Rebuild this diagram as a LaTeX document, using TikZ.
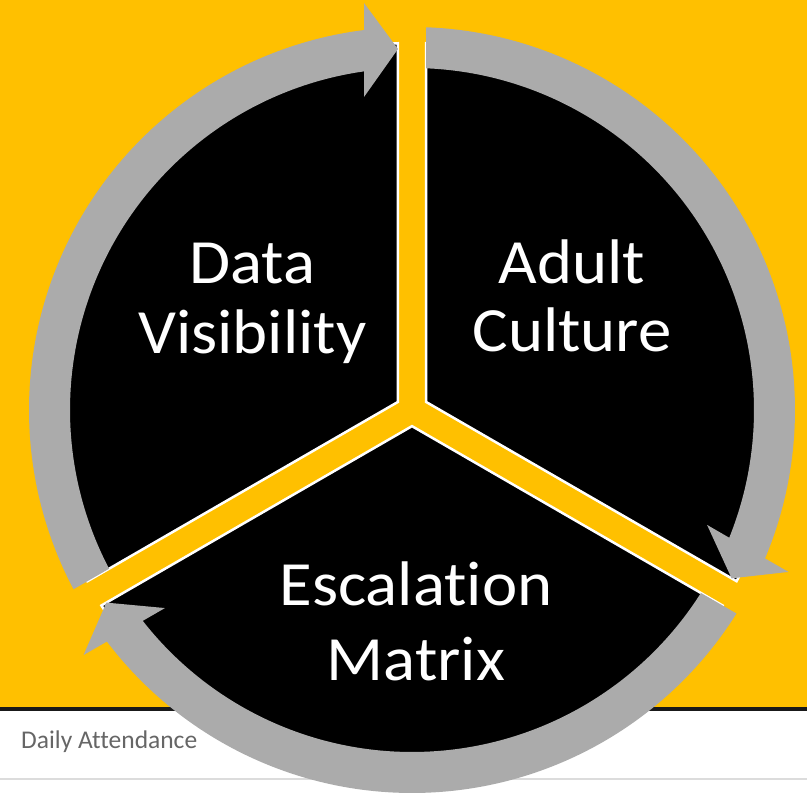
\documentclass[tikz,border=0pt]{standalone}
\usepackage{fontspec}
\setmainfont[Ligatures=NoCommon]{Carlito}
\newfontfamily\bigfont[FakeStretch=1.06,Ligatures=NoCommon]{Carlito}
\definecolor{gold}{HTML}{FFC000}
\definecolor{ringgray}{HTML}{ABABAB}
\definecolor{txtgray}{HTML}{666666}
\definecolor{rulegray}{HTML}{DCDCDC}
\tikzset{
  sector/.style={fill=black, draw=white, line width=2.5pt, line join=miter},
  ringarrow/.style={fill=ringgray},
  bigtext/.style={text=white, align=center, inner sep=0pt, anchor=north},
}
\begin{document}
\begin{tikzpicture}[x=1pt,y=1pt]
\useasboundingbox (0,0) rectangle (807,799);
% background
\fill[white] (0,0) rectangle (807,799);
\fill[gold] (0,92) rectangle (807,799);
\fill[black!90] (0,88) rectangle (807,92);
\fill[rulegray] (0,18.5) rectangle (807,20.5);
\node[anchor=base west, inner sep=0pt, text=txtgray, font=\fontsize{25.5}{30}\selectfont] (label) at (21,50) {Daily Attendance};
% diagram
\begin{scope}[shift={(412,389)}]
  \foreach \r in {0,-120,120}{
    \path[sector, rotate=\r] (150:16.17pt) -- (92.19:367pt) arc[start angle=92.19, end angle=207.81, radius=367pt] -- cycle;
  }
  \foreach \r in {0,-120,120}{
    \fill[ringarrow, rotate=\r] (207.905:383pt) arc[start angle=207.905, end angle=97.198, radius=383pt]
      -- (-48pt,407pt) -- (-14pt,361pt) -- (-48pt,313pt)
      -- (98.069:342pt) arc[start angle=98.069, end angle=207.654, radius=342pt] -- cycle;
  }
\end{scope}
\node[bigtext, font=\bigfont\fontsize{63}{70}\selectfont] (data) at (252.5,556) {Data\\Visibility};
\node[bigtext, font=\bigfont\fontsize{63}{68}\selectfont] (adult) at (572,559) {Adult\\Culture};
\node[bigtext, font=\bigfont\fontsize{63}{75}\selectfont] (esc) at (416,237.5) {Escalation\\Matrix};
\end{tikzpicture}
\end{document}
